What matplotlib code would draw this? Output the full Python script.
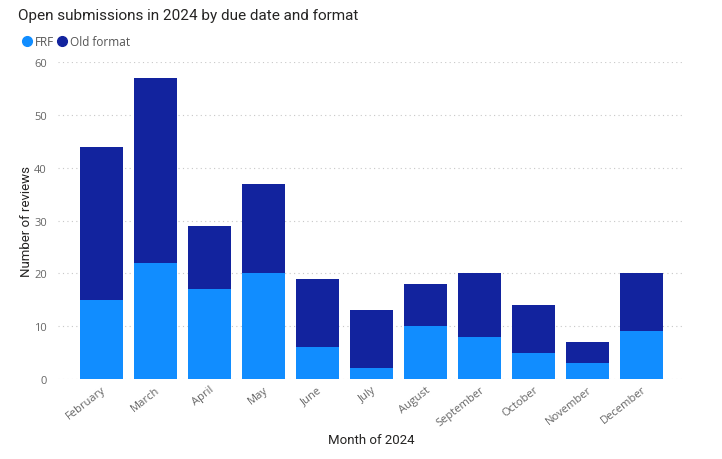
import matplotlib.pyplot as plt
from matplotlib.lines import Line2D

plt.rcParams['font.family'] = ['Open Sans', 'DejaVu Sans']

# Data ################
months = ["February", "March", "April", "May", "June", "July", "August",
          "September", "October", "November", "December"]
frf = [15, 22, 17, 20, 6, 2, 10, 8, 5, 3, 9]
old_format = [29, 35, 12, 17, 13, 11, 8, 12, 9, 4, 11]
#########################

c_frf = '#118DFF'
c_old = '#12239E'

fig = plt.figure(figsize=(7.22, 4.60), dpi=100)
ax = fig.add_axes([58/722, 1 - 380/460, (685 - 58)/722, (380 - 63)/460])

x = list(range(len(months)))
ax.bar(x, frf, width=0.8, color=c_frf, zorder=3)
ax.bar(x, old_format, width=0.8, bottom=frf, color=c_old, zorder=3)

ax.set_ylim(0, 60)
ax.set_xlim(-0.8, 10.8)
ax.set_yticks(range(0, 61, 10))
ax.yaxis.grid(True, linestyle=(0, (1, 3)), color='#c8c8c8', linewidth=0.8, zorder=0)
for s in ax.spines.values():
    s.set_visible(False)
ax.tick_params(length=0, colors='#666666', labelsize=8)
ax.tick_params(axis='y', pad=8)
ax.set_xticks(x)
ax.set_xticklabels(months, rotation=38, ha='right', rotation_mode='anchor')

ax.set_ylabel('Number of reviews', fontsize=9.5, color='#252423',
              family=['Roboto', 'DejaVu Sans'])
ax.yaxis.set_label_coords((33 - 58)/627, 0.5)
fig.text(371/722, 1 - 441/460, 'Month of 2024', fontsize=9.5, color='#252423',
         ha='center', va='center', family=['Roboto', 'DejaVu Sans'])

fig.text(18/722, 1 - 16/460, 'Open submissions in 2024 by due date and format',
         fontsize=11, color='#252423', ha='left', va='center',
         family=['Roboto', 'DejaVu Sans'])

handles = [Line2D([], [], marker='o', linestyle='', color=c_frf, markersize=7),
           Line2D([], [], marker='o', linestyle='', color=c_old, markersize=7)]
fig.legend(handles, ['FRF', 'Old format'], loc='center left',
           bbox_to_anchor=(12/722, 1 - 43/460), ncol=2, frameon=False,
           handletextpad=0.25, columnspacing=0.3, fontsize=8.5,
           labelcolor='#555555', handlelength=0.8)

fig.savefig('out.png', dpi=100)
